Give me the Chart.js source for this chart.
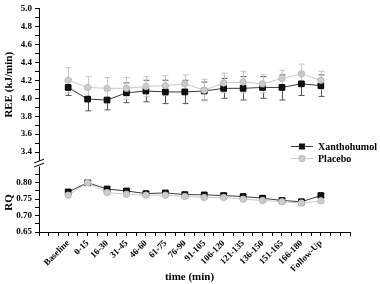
<!DOCTYPE html>
<html>
<head>
<meta charset="utf-8">
<script src="https://cdn.jsdelivr.net/npm/chart.js@4.4.1/dist/chart.umd.min.js"></script>
<style>
  html, body { margin: 0; padding: 0; background: #fff; }
  #wrap { width: 380px; height: 284px; }
</style>
</head>
<body>
<div id="wrap"><canvas id="c" width="380" height="284"></canvas></div>
<script>
// ---- data ----
const categories = ['Baseline','0-15','16-30','31-45','46-60','61-75','76-90','91-105','106-120','121-135','136-150','151-165','166-180','Follow-Up'];
const seriesNames = ['Xanthohumol', 'Placebo'];

const reeXanthohumol = [4.12, 3.99, 3.98, 4.06, 4.08, 4.07, 4.07, 4.08, 4.11, 4.11, 4.12, 4.12, 4.16, 4.14];
const reeXanthohumolErr = [0.09, 0.13, 0.11, 0.11, 0.12, 0.13, 0.13, 0.10, 0.11, 0.13, 0.12, 0.14, 0.13, 0.12];
const reePlacebo = [4.20, 4.12, 4.11, 4.11, 4.13, 4.14, 4.16, 4.09, 4.17, 4.18, 4.16, 4.22, 4.27, 4.20];
const reePlaceboErr = [0.14, 0.12, 0.12, 0.12, 0.11, 0.11, 0.10, 0.12, 0.11, 0.12, 0.10, 0.09, 0.11, 0.10];

const rqXanthohumol = [0.772, 0.800, 0.781, 0.775, 0.767, 0.769, 0.764, 0.763, 0.761, 0.758, 0.753, 0.746, 0.742, 0.761];
const rqXanthohumolErr = [0.006, 0.005, 0.006, 0.006, 0.005, 0.005, 0.005, 0.005, 0.006, 0.006, 0.006, 0.006, 0.008, 0.006];
const rqPlacebo = [0.762, 0.800, 0.770, 0.765, 0.762, 0.762, 0.758, 0.755, 0.755, 0.750, 0.746, 0.742, 0.738, 0.745];
const rqPlaceboErr = [0.006, 0.006, 0.006, 0.006, 0.005, 0.005, 0.005, 0.005, 0.006, 0.006, 0.006, 0.006, 0.008, 0.006];

const reeTickLabels = ['3.4', '3.6', '3.8', '4.0', '4.2', '4.4', '4.6', '4.8', '5.0'];
const rqTickLabels = ['0.65', '0.70', '0.75', '0.80'];

const yTitleREE = 'REE (kJ/min)';
const yTitleRQ = 'RQ';
const xTitle = 'time (min)';

// ---- styles ----
const FONT = "'Liberation Serif', 'DejaVu Serif', serif";
const darkLine = '#3a3a3a', darkPoint = '#111111', darkErr = '#555555';
const lightLine = '#c8c8c8', lightPoint = '#cccccc', lightErr = '#c4c4c4';

function toXY(arr) { return arr.map((v, i) => ({ x: i, y: v })); }

function darkSet(label, data, err, axis) {
  return { label, data: toXY(data), err, yAxisID: axis, order: 1,
    borderColor: darkLine, borderWidth: 1, backgroundColor: darkPoint,
    pointStyle: 'rect', pointRadius: 4, pointBorderColor: '#000', pointBorderWidth: 1,
    errColor: darkErr, fill: false, tension: 0 };
}
function lightSet(label, data, err, axis) {
  return { label, data: toXY(data), err, yAxisID: axis, order: 0,
    borderColor: lightLine, borderWidth: 1, backgroundColor: lightPoint,
    pointStyle: 'circle', pointRadius: 3.2, pointBorderColor: '#bdbdbd', pointBorderWidth: 1,
    errColor: lightErr, fill: false, tension: 0 };
}

function ticksFromLabels(labels, minorStep, extraTop) {
  const vals = [];
  const nums = labels.map(parseFloat);
  nums.forEach((v, i) => {
    vals.push(v);
    if (i < nums.length - 1 || extraTop) vals.push(v + minorStep);
  });
  return vals;
}
function labelFor(labels, v) {
  for (const l of labels) if (Math.abs(parseFloat(l) - v) < 1e-6) return l;
  return '';
}

const errorBars = {
  id: 'errorBars',
  beforeDatasetsDraw(chart) {
    const ctx = chart.ctx;
    chart.data.datasets.forEach((ds, di) => {
      const meta = chart.getDatasetMeta(di);
      const scale = chart.scales[ds.yAxisID];
      ctx.save();
      ctx.strokeStyle = ds.errColor;
      ctx.lineWidth = 1;
      meta.data.forEach((pt, i) => {
        const v = ds.data[i].y, e = ds.err[i];
        const x = Math.round(pt.x) + 0.5;
        const yt = scale.getPixelForValue(v + e);
        const yb = scale.getPixelForValue(v - e);
        ctx.beginPath();
        ctx.moveTo(x, yt); ctx.lineTo(x, yb);
        ctx.moveTo(x - 3, yt); ctx.lineTo(x + 3, yt);
        ctx.moveTo(x - 3, yb); ctx.lineTo(x + 3, yb);
        ctx.stroke();
      });
      ctx.restore();
    });
  }
};

const decorations = {
  id: 'decorations',
  afterDraw(chart) {
    const ctx = chart.ctx;
    const yR = chart.scales.yREE, yQ = chart.scales.yRQ, xs = chart.scales.x;
    ctx.save();
    // axis break
    const ax = yR.right;
    const yb = yR.bottom;
    ctx.fillStyle = '#fff';
    ctx.fillRect(ax - 3, yb - 0.5, 6, 6);
    ctx.strokeStyle = '#000';
    ctx.lineWidth = 1;
    ctx.beginPath();
    ctx.moveTo(ax - 5, yb + 2); ctx.lineTo(ax + 5, yb - 2);
    ctx.moveTo(ax - 5, yb + 6); ctx.lineTo(ax + 5, yb + 2);
    ctx.stroke();

    // axis titles
    ctx.fillStyle = '#000';
    ctx.font = 'bold 11px ' + FONT;
    ctx.textAlign = 'center';
    ctx.textBaseline = 'middle';
    ctx.save();
    ctx.translate(9, (yR.top + yR.bottom) / 2);
    ctx.rotate(-Math.PI / 2);
    ctx.fillText(yTitleREE, 0, 0);
    ctx.restore();
    ctx.save();
    ctx.translate(9, yQ.getPixelForValue(0.74));
    ctx.rotate(-Math.PI / 2);
    ctx.fillText(yTitleRQ, 0, 0);
    ctx.restore();
    ctx.fillText(xTitle, (xs.left + xs.right) / 2 - 5, 277);

    // legend
    const items = [chart.data.datasets[0], chart.data.datasets[1]];
    const lx = 291, lw = 22;
    items.forEach((ds, i) => {
      const y = 146 + i * 12;
      ctx.strokeStyle = ds.borderColor;
      ctx.lineWidth = 1;
      ctx.beginPath();
      ctx.moveTo(lx, y + 0.5); ctx.lineTo(lx + lw, y + 0.5);
      ctx.stroke();
      ctx.fillStyle = ds.backgroundColor;
      ctx.strokeStyle = ds.pointBorderColor;
      const cx = lx + lw / 2;
      if (ds.pointStyle === 'rect') {
        ctx.fillRect(cx - 3, y - 2.5, 6, 6);
      } else {
        ctx.beginPath(); ctx.arc(cx, y + 0.5, 3.2, 0, Math.PI * 2); ctx.fill(); ctx.stroke();
      }
      ctx.fillStyle = '#000';
      ctx.font = 'bold 10px ' + FONT;
      ctx.textAlign = 'left';
      ctx.fillText(seriesNames[i], lx + lw + 5, y + 1);
    });
    ctx.restore();
  }
};

const tickFont = { family: FONT, size: 9, weight: 'bold' };

new Chart(document.getElementById('c'), {
  type: 'line',
  data: {
    datasets: [
      darkSet(seriesNames[0], reeXanthohumol, reeXanthohumolErr, 'yREE'),
      lightSet(seriesNames[1], reePlacebo, reePlaceboErr, 'yREE'),
      darkSet(seriesNames[0], rqXanthohumol, rqXanthohumolErr, 'yRQ'),
      lightSet(seriesNames[1], rqPlacebo, rqPlaceboErr, 'yRQ')
    ]
  },
  options: {
    responsive: false,
    animation: false,
    devicePixelRatio: 1,
    layout: { padding: { left: 0, right: 30, top: 5, bottom: 0 } },
    plugins: { legend: { display: false }, tooltip: { enabled: false } },
    scales: {
      x: {
        type: 'linear', min: -1.5, max: 14.5,
        afterBuildTicks(scale) {
          const t = [];
          for (let i = 0; i <= (categories.length + 2) * 2; i++) t.push({ value: -1.5 + i * 0.5 });
          scale.ticks = t;
        },
        afterFit(scale) { scale.height = 52; },
        ticks: {
          autoSkip: false, maxRotation: 45, minRotation: 45, padding: 2,
          color: '#000', font: tickFont,
          callback(v) { return Number.isInteger(v) && categories[v] !== undefined ? categories[v] : ''; }
        },
        grid: { drawOnChartArea: false, drawTicks: true, tickLength: 4, color: '#000', tickColor: '#000' },
        border: { display: true, color: '#000', width: 1 }
      },
      yRQ: {
        type: 'linear', position: 'left', stack: 'v', stackWeight: 72,
        min: 0.65, max: 0.866,
        afterBuildTicks(scale) {
          scale.ticks = ticksFromLabels(rqTickLabels, 0.025, true).map(v => ({ value: v }));
        },
        afterFit(scale) { scale.width = 39; },
        ticks: { autoSkip: false, color: '#000', font: tickFont, padding: 3, callback(v) { return labelFor(rqTickLabels, v); } },
        grid: { drawOnChartArea: false, drawTicks: true, tickLength: 4, color: '#000', tickColor: '#000' },
        border: { display: true, color: '#000', width: 1 }
      },
      yREE: {
        type: 'linear', position: 'left', stack: 'v', stackWeight: 155,
        min: 3.3, max: 5.0,
        afterBuildTicks(scale) {
          scale.ticks = ticksFromLabels(reeTickLabels, 0.1, false).map(v => ({ value: v }));
        },
        afterFit(scale) { scale.width = 39; },
        ticks: { autoSkip: false, color: '#000', font: tickFont, padding: 3, callback(v) { return labelFor(reeTickLabels, v); } },
        grid: { drawOnChartArea: false, drawTicks: true, tickLength: 4, color: '#000', tickColor: '#000' },
        border: { display: true, color: '#000', width: 1 }
      }
    }
  },
  plugins: [errorBars, decorations]
});
</script>
</body>
</html>
